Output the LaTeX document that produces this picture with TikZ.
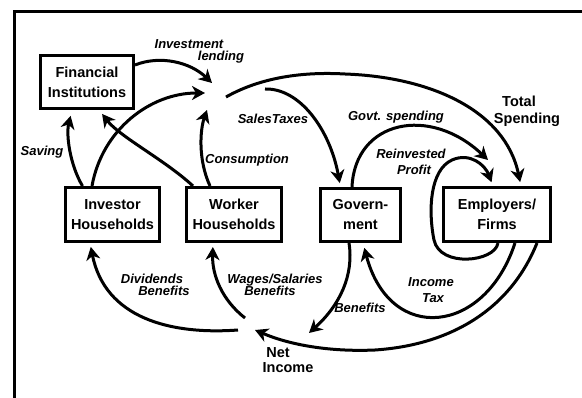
\documentclass[tikz,border=0pt]{standalone}
\usepackage{fontspec}
\setmainfont{Liberation Sans}
\usetikzlibrary{arrows.meta}
\begin{document}
\begin{tikzpicture}[x=1pt,y=-1pt,
  box/.style={draw,line width=3pt,inner sep=0pt,align=center,
    font=\fontsize{14.5}{20}\selectfont\bfseries},
  lbl/.style={anchor=base,inner sep=0pt,font=\fontsize{13}{13}\selectfont\bfseries\itshape},
  blbl/.style={anchor=base,inner sep=0pt,font=\fontsize{14.5}{15}\selectfont\bfseries},
  flow/.style={line width=3pt,-{Stealth[length=13pt,width=14pt,inset=4pt]}}]
\useasboundingbox (0,0) rectangle (582,398);
% frame
\draw[line width=3pt] (14.2,398) -- (14.2,12) -- (582,12);
% boxes
\node[box,minimum width=93pt,minimum height=53pt] (fi) at (87,82) {Financial\\Institutions};
\node[box,minimum width=94pt,minimum height=54pt] (inv) at (112.5,214.5) {Investor\\Households};
\node[box,minimum width=95pt,minimum height=54pt] (wrk) at (234,214.5) {Worker\\Households};
\node[box,minimum width=80pt,minimum height=53pt] (gov) at (360.5,215) {Govern-\\ment};
\node[box,minimum width=107pt,minimum height=54pt] (emp) at (497,214.5) {Employers/\\Firms};
% free points
\coordinate (hubA) at (212,83);
\coordinate (hubB) at (205,93);
\coordinate (hubC) at (207,110);
\coordinate (arcS) at (226,97);
\coordinate (taxS) at (265,89);
\coordinate (gsE) at (488,160);
\coordinate (niE) at (255,330);
\coordinate (divS) at (238,330);
\coordinate (wagS) at (245,318);
\coordinate (benE) at (309,333);
% connectors
\draw[flow] ([yshift=17pt]fi.east) .. controls (160,55) and (190,62) .. (hubA);
\draw[flow] ([xshift=-20.5pt]inv.north) .. controls (102,130) and (150,93) .. (hubB);
\draw[flow,shorten >=6pt] ([xshift=-30pt]inv.north) .. controls (70,165) and (66,135) .. ([xshift=-15pt]fi.south);
\draw[flow,shorten >=5pt] ([xshift=-41pt]wrk.north) .. controls (165,160) and (120,137) .. ([xshift=12pt]fi.south);
\draw[flow] ([xshift=-24pt]wrk.north) .. controls (198,160) and (200,130) .. (hubC);
\draw[flow,shorten >=4pt] (arcS) .. controls (265,75) and (310,72) .. (345,74)
   .. controls (430,77) and (505,110) .. ([xshift=24pt]emp.north);
\draw[flow,shorten >=4pt] (taxS) .. controls (300,88) and (330,130) .. ([xshift=-20pt]gov.north);
\draw[flow] ([xshift=-8.5pt]gov.north) .. controls (355,120) and (430,105) .. (gsE);
\draw[flow,shorten >=4pt] ([xshift=1pt]emp.south) .. controls (495,262) and (440,268) .. (434,240)
   .. controls (428,210) and (430,170) .. (452,160)
   .. controls (470,152) and (485,165) .. ([xshift=-4pt]emp.north);
\draw[flow,shorten >=5pt] ([xshift=18pt]emp.south) .. controls (485,335) and (390,345) .. ([xshift=2.5pt]gov.south);
\draw[flow] ([xshift=40pt]emp.south) .. controls (510,310) and (450,345) .. (375,350)
   .. controls (330,352) and (290,345) .. (niE);
\draw[flow] ([xshift=-11.5pt]gov.south) .. controls (354,275) and (340,305) .. (benE);
\draw[flow,shorten >=4pt] (divS) .. controls (170,335) and (105,318) .. ([xshift=-22.5pt]inv.south);
\draw[flow,shorten >=4pt] (wagS) .. controls (222,300) and (212,275) .. ([xshift=-21pt]wrk.south);
% labels
\node[lbl] (l1) at (189,49) {Investment};
\node[lbl] (l2) at (221,60.5) {lending};
\node[lbl] (l3) at (42,156) {Saving};
\node[lbl] (l4) at (247,164) {Consumption};
\node[lbl] (l5) at (273,124) {SalesTaxes};
\node[lbl] (l6) at (396,121) {Govt. spending};
\node[lbl] (l7) at (411,159) {Reinvested};
\node[lbl] (l8) at (414,175) {Profit};
\node[blbl] (l9) at (519,106.5) {Total};
\node[blbl] (l10) at (527,124) {Spending};
\node[lbl] (l11) at (152,283.5) {Dividends};
\node[lbl] (l12) at (164,296) {Benefits};
\node[lbl] (l13) at (275,283.5) {Wages/Salaries};
\node[lbl] (l14) at (270,296) {Benefits};
\node[lbl] (l15) at (360,313) {Benefits};
\node[lbl] (l16) at (431,287) {Income};
\node[lbl] (l17) at (433,303) {Tax};
\node[blbl] (l18) at (278,358) {Net};
\node[blbl] (l19) at (288,373) {Income};
\end{tikzpicture}
\end{document}
